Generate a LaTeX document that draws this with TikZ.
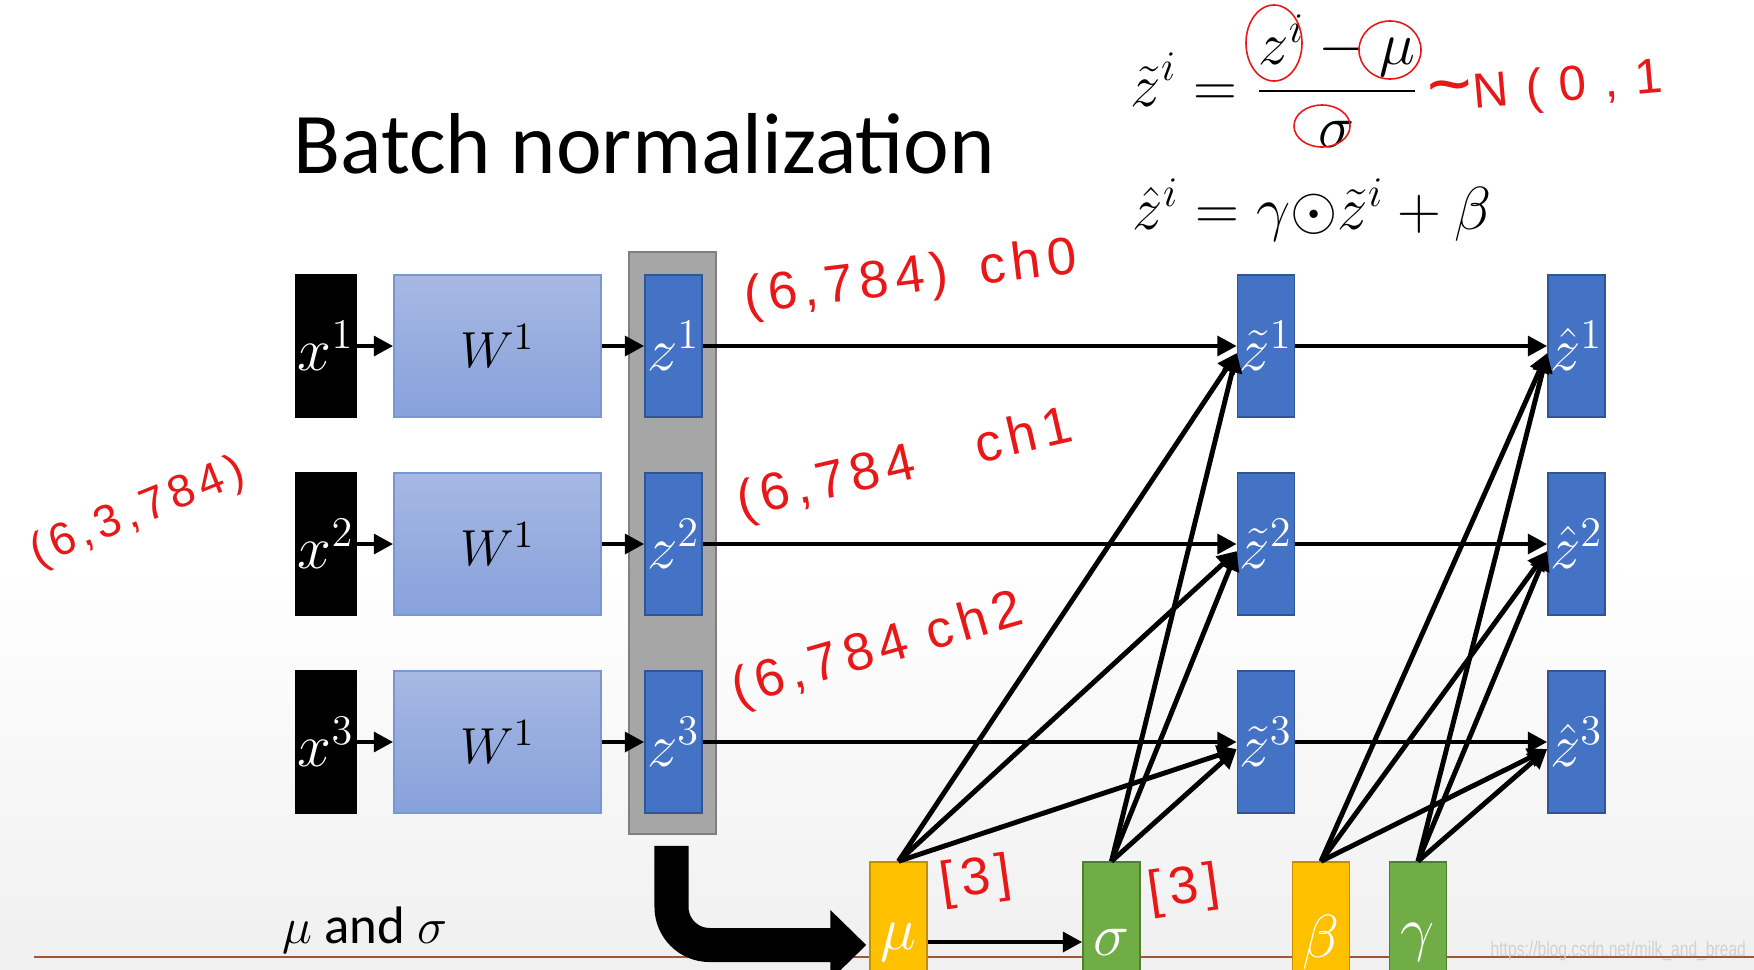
\documentclass[tikz,border=0pt]{standalone}
\usepackage{fontspec}
\usepackage{graphicx}
\setmainfont{Carlito}
\newfontfamily\handfont{Liberation Sans}[LetterSpace=12]
\newfontfamily\wmfont{Liberation Sans}
\usetikzlibrary{arrows.meta,calc}
\definecolor{boxblue}{RGB}{68,114,196}
\definecolor{boxblueline}{RGB}{47,85,151}
\definecolor{wtop}{RGB}{167,184,227}
\definecolor{wbot}{RGB}{135,161,219}
\definecolor{wline}{RGB}{120,150,212}
\definecolor{colgray}{RGB}{166,166,166}
\definecolor{colgrayline}{RGB}{127,127,127}
\definecolor{mucol}{RGB}{255,192,0}
\definecolor{mucolline}{RGB}{191,144,0}
\definecolor{sigcol}{RGB}{112,173,71}
\definecolor{sigcolline}{RGB}{80,126,50}
\definecolor{inkred}{RGB}{232,24,24}
\definecolor{brownline}{RGB}{165,85,50}
\tikzset{
  lbl/.style={font=\fontsize{17}{17}\selectfont},
  xbox/.style={draw=black, fill=black, minimum width=0.60cm, minimum height=1.42cm, inner sep=0pt, text=white, lbl},
  wbox/.style={draw=wline, top color=wtop, bottom color=wbot, minimum width=2.07cm, minimum height=1.42cm, inner sep=0pt, font=\fontsize{15}{15}\selectfont},
  zbox/.style={draw=boxblueline, fill=boxblue, minimum width=0.57cm, minimum height=1.42cm, inner sep=0pt, text=white, lbl},
  colbox/.style={draw=colgrayline, fill=colgray, minimum width=0.87cm, minimum height=5.82cm, inner sep=0pt},
  mubox/.style={draw=mucolline, fill=mucol, minimum width=0.57cm, minimum height=1.60cm, inner sep=0pt, text=white, lbl},
  sigbox/.style={draw=sigcolline, fill=sigcol, minimum width=0.57cm, minimum height=1.60cm, inner sep=0pt, text=white, lbl},
  arr/.style={line width=1.4pt, -{Triangle[length=5.5pt,width=5.5pt]}},
  hand/.style={text=inkred, font=\handfont\fontsize{15}{15}\selectfont, inner sep=0pt},
  ink/.style={draw=inkred, line width=0.45pt},
}
\begin{document}
\begin{tikzpicture}[x=0.01cm, y=-0.01cm]
\useasboundingbox (0,0) rectangle (1754,969);
\clip (0,0) rectangle (1754,969);
\fill[white] (0,0) rectangle (1754,969);
\shade[top color=white, bottom color=black!6] (0,560) rectangle (1754,969);

% title and formulas
\node[anchor=base west, inner sep=0pt, font=\fontsize{24.6}{25}\selectfont] (title) at (293,173) {Batch normalization};
\node[anchor=base west, inner sep=0pt, font=\fontsize{18}{18}\selectfont] (f1) at (1130,106) {$\displaystyle\tilde z^i = \frac{z^i - \mu}{\sigma}$};
\node[anchor=base west, inner sep=0pt, font=\fontsize{18}{18}\selectfont] (f2) at (1132,229) {$\hat z^i = \gamma{\odot}\tilde z^i + \beta$};

% bottom rule
\draw[brownline, line width=0.7pt] (34,957) -- (1754,957);

% left column boxes
\foreach \i/\y in {1/346,2/544,3/742}{
  \node[xbox] (x\i) at (326,\y) {$x^{\i}$};
  \node[wbox] (w\i) at (497.5,\y) {$W^{1}$};
}
\node[colbox] (gray) at (672.5,543) {};
\foreach \i/\y in {1/346,2/544,3/742}{
  \node[zbox] (z\i) at (673.5,\y) {$z^{\i}$};
  \node[zbox] (zt\i) at (1266,\y) {$\tilde z^{\i}$};
  \node[zbox] (zh\i) at (1576.5,\y) {$\hat z^{\i}$};
}

% bottom parameter boxes
\node[mubox] (mu) at (898.5,942) {$\mu$};
\node[sigbox] (sig) at (1111.5,942) {$\sigma$};
\node[mubox] (beta) at (1321,942) {$\beta$};
\node[sigbox] (gam) at (1418,942) {$\gamma$};

% row arrows
\foreach \i in {1,2,3}{
  \draw[arr] (x\i) -- (w\i);
  \draw[arr] (w\i) -- (z\i);
  \draw[arr] (z\i) -- (zt\i);
  \draw[arr] (zt\i) -- (zh\i);
}
% diagonal arrows
\foreach \s in {mu,sig}{
  \foreach \i in {1,2,3}{
    \draw[arr] (\s.north) -- ([yshift=-0.07cm]zt\i.west);
  }
}
\foreach \s in {beta,gam}{
  \foreach \i in {1,2,3}{
    \draw[arr] (\s.north) -- ([yshift=-0.07cm]zh\i.west);
  }
}
\draw[arr] (mu) -- (sig);

% big curved arrow
\coordinate (bigstart) at ($(gray.south)+(-1,11)$);
\draw[line width=0.34cm, rounded corners=0.38cm, -{Triangle[length=0.36cm,width=0.68cm]}] (bigstart) |- ([xshift=-0.03cm, yshift=-0.03cm]mu.west);

\node[anchor=base west, inner sep=0pt, font=\fontsize{15}{15}\selectfont] (musig) at (282,943) {$\mu$ and $\sigma$};

% watermark
\node[anchor=west, inner sep=0pt, text=black!18, font=\wmfont\fontsize{6}{6}\selectfont] (wm) at (1490,951) {\scalebox{0.74}[1]{https://blog.csdn.net/milk\_and\_bread}};

% red handwriting
\node[hand, anchor=west, rotate=7] (h0) at (744,300) {(6,784)\hspace{0.6em}ch0};
\node[hand, anchor=west, rotate=13] (h1) at (738,505) {(6,784\hspace{1.2em}ch1};
\node[hand, anchor=west, rotate=16] (h2) at (733,693) {(6,784 ch2};
\node[hand, anchor=west, rotate=22, font=\handfont\fontsize{13}{13}\selectfont] (h3) at (32,556) {(6,3,784)};
\node[hand, anchor=center, rotate=8] (b1) at (976,881) {[3]};
\node[hand, anchor=center, rotate=8] (b2) at (1184,890) {[3]};
\node[hand, anchor=west, rotate=5, font=\handfont\addfontfeature{LetterSpace=35}\fontsize{14}{14}\selectfont] (nd) at (1428,100) {{\fontsize{22}{22}\selectfont\textasciitilde}N(0,1};
\draw[ink] (1274,43) ellipse [x radius=0.28cm, y radius=0.38cm];
\draw[ink] (1390,50) ellipse [x radius=0.31cm, y radius=0.29cm];
\draw[ink] (1322,126) ellipse [x radius=0.28cm, y radius=0.21cm];
\end{tikzpicture}
\end{document}
